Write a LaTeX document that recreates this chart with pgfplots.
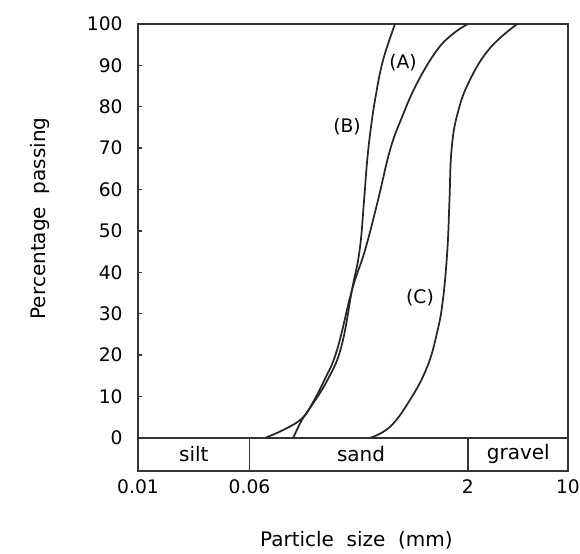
\documentclass[border=0pt]{standalone}
\usepackage{pgfplots}
\pgfplotsset{compat=1.18}
\usepackage{fontspec}
\setmainfont{DejaVu Sans}
\begin{document}
\begin{tikzpicture}
\begin{axis}[
  scale only axis, width=322.5pt, height=335.25pt,
  xmode=log, xmin=0.01, xmax=10, ymin=-8, ymax=100,
  axis line style={line width=1.1pt, black!80},
  xtick={0.01,0.06,2,10}, xticklabels={0.01,0.06,2,10},
  xminorticks=false, yminorticks=false,
  x tick style={draw=none},
  ytick={0,10,...,100}, ytick pos=left,
  y tick style={line width=1pt, black!80}, tick align=inside, major tick length=3pt,
  /pgf/number format/assume math mode=true,
  xticklabel style={font=\fontsize{14}{16}\selectfont, yshift=-3pt},
  yticklabel style={font=\fontsize{14}{16}\selectfont, xshift=-8pt},
  xlabel={Particle\ \ size\ \ (mm)},
  ylabel={Percentage\ \ passing},
  xlabel style={font=\fontsize{15}{17}\selectfont, at={(axis description cs:0.508,-0.154)}, anchor=center},
  ylabel style={font=\fontsize{15}{17}\selectfont, at={(axis description cs:-0.228,0.565)}, anchor=center},
  curve/.style={line width=1.3pt, black!85, smooth, tension=0.7, mark=none},
]
% grain size strip
\draw[line width=1.1pt, black!80] (axis cs:0.01,0) -- (axis cs:10,0);
\draw[line width=1.1pt, black!80] (axis cs:0.06,0) -- (axis cs:0.06,-8);
\draw[line width=1.1pt, black!80] (axis cs:2,0) -- (axis cs:2,-8);
\node[font=\fontsize{15}{17}\selectfont] at (axis cs:0.0245,-4) {silt};
\node[font=\fontsize{15}{17}\selectfont] at (axis cs:0.36,-4) {sand};
\node[font=\fontsize{15}{17}\selectfont] at (axis cs:4.5,-4) {gravel};
% curve A
\addplot[curve] coordinates {
 (0.121,0) (0.139,4.3) (0.158,7.2) (0.200,14) (0.245,21.3) (0.311,35.7) (0.384,45.4)
 (0.473,57.5) (0.574,69.6) (0.695,77.5) (0.885,85.7) (1.22,93.7) (1.60,97.8) (2.01,100)
};
% curve B
\addplot[curve] coordinates {
 (0.077,0) (0.103,1.9) (0.135,4.3) (0.158,7.2) (0.210,14) (0.262,22) (0.311,35.7) (0.352,45.4)
 (0.378,57.5) (0.396,66.5) (0.420,74.5) (0.455,82.5) (0.513,91.3) (0.621,100)
};
% curve C
\addplot[curve] coordinates {
 (0.416,0) (0.574,2.7) (0.791,9.2) (1.04,17.1) (1.22,25.4) (1.34,33.3) (1.44,45.4)
 (1.49,57.5) (1.54,69.6) (1.70,78.5) (2.07,86.5) (2.86,94.2) (4.42,100)
};
\node[font=\fontsize{14}{16}\selectfont] at (axis cs:0.706,90.6) {(A)};
\node[font=\fontsize{14}{16}\selectfont] at (axis cs:0.287,75.1) {(B)};
\node[font=\fontsize{14}{16}\selectfont] at (axis cs:0.928,34) {(C)};
\end{axis}
\pgfresetboundingbox
\path[use as bounding box] ([shift={(-103.5pt,-62.25pt)}]current axis.south west) rectangle ([shift={(9pt,18pt)}]current axis.north east);
\end{tikzpicture}
\end{document}
